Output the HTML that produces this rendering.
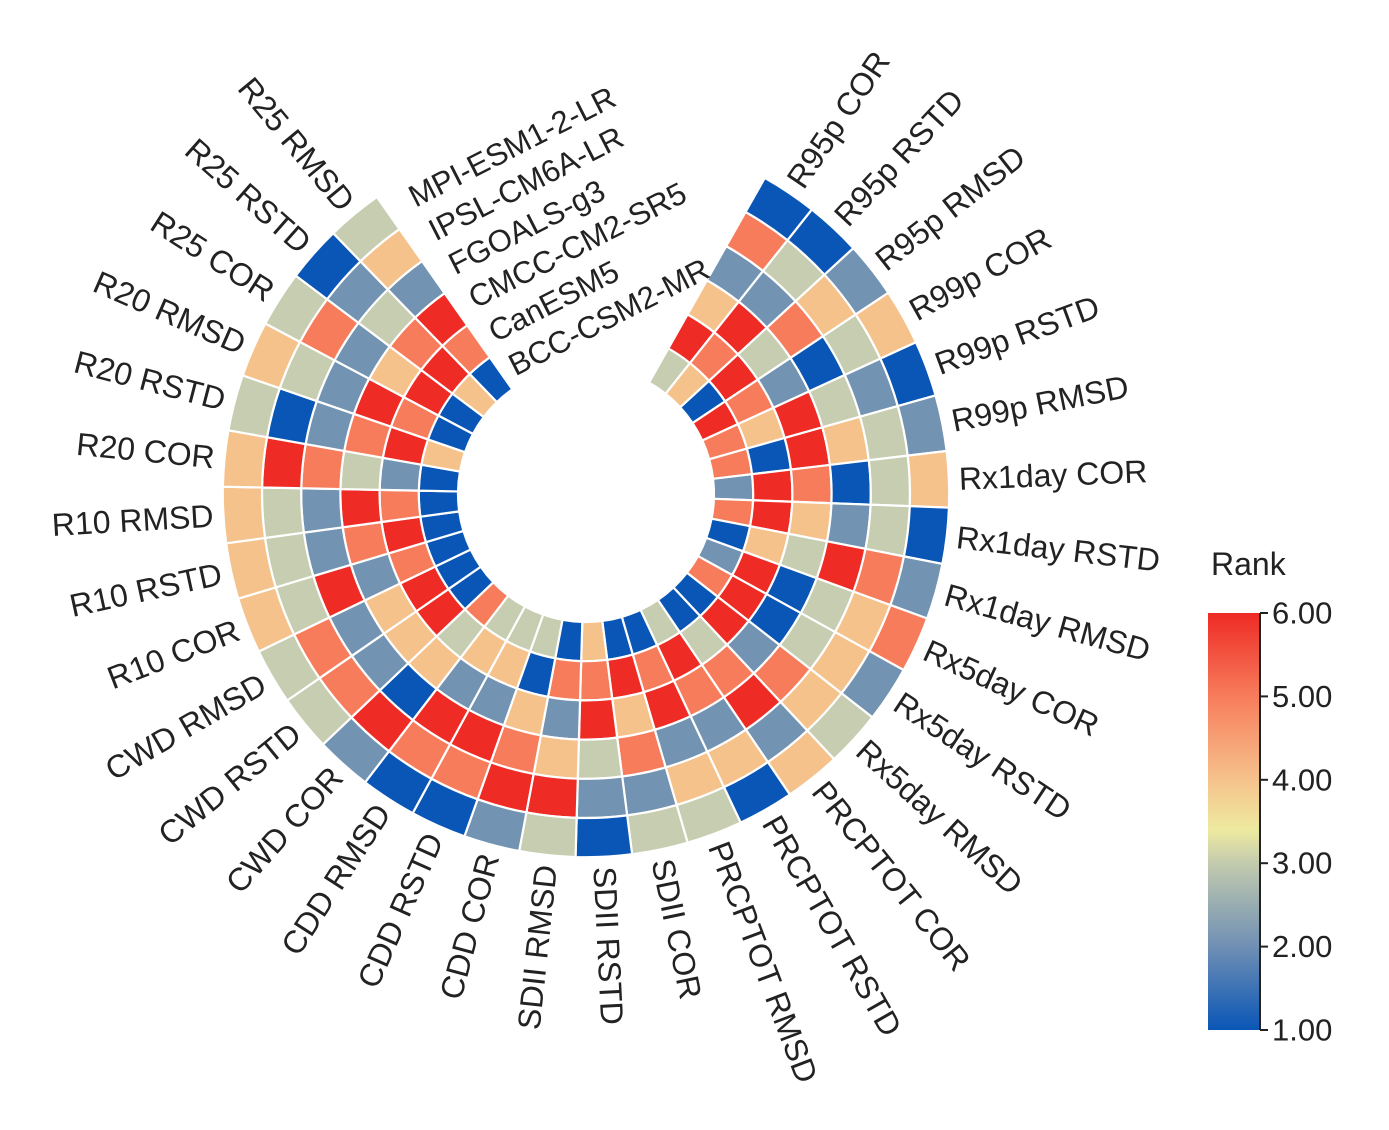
<!DOCTYPE html>
<html><head><meta charset="utf-8">
<style>
html,body{margin:0;padding:0;background:#fff;}
svg{display:block;font-family:"Liberation Sans",Arial,sans-serif;}
</style></head>
<body>
<svg id="chart" width="1389" height="1130" viewBox="0 0 1389 1130" xmlns="http://www.w3.org/2000/svg">
<defs>
<linearGradient id="cbar" x1="0" y1="1" x2="0" y2="0">
<stop offset="0" stop-color="#0a56b6"/>
<stop offset="0.2" stop-color="#6f8fb4"/>
<stop offset="0.4" stop-color="#c3cbae"/>
<stop offset="0.48" stop-color="#eeeaa0"/>
<stop offset="0.6" stop-color="#f6c28c"/>
<stop offset="0.8" stop-color="#f77c5c"/>
<stop offset="1" stop-color="#ee2b25"/>
</linearGradient>
</defs>
<g id="cells"></g>
<g id="labels"></g>
<g id="models"></g>
<g id="legend">
<text x="1211" y="575" font-size="32" fill="#222">Rank</text>
<rect x="1208" y="613" width="52" height="417" fill="url(#cbar)"/>
<line x1="1260" y1="613" x2="1260" y2="1030" stroke="#222" stroke-width="2"/>
</g>
</svg>
<script>
const metrics = ["R95p COR","R95p RSTD","R95p RMSD","R99p COR","R99p RSTD","R99p RMSD","Rx1day COR","Rx1day RSTD","Rx1day RMSD","Rx5day COR","Rx5day RSTD","Rx5day RMSD","PRCPTOT COR","PRCPTOT RSTD","PRCPTOT RMSD","SDII COR","SDII RSTD","SDII RMSD","CDD COR","CDD RSTD","CDD RMSD","CWD COR","CWD RSTD","CWD RMSD","R10 COR","R10 RSTD","R10 RMSD","R20 COR","R20 RSTD","R20 RMSD","R25 COR","R25 RSTD","R25 RMSD"];
const models = ["BCC-CSM2-MR","CanESM5","CMCC-CM2-SR5","FGOALS-g3","IPSL-CM6A-LR","MPI-ESM1-2-LR"];
const rankBCC    = [3,4,1,6,5,5,2,5,1,2,5,1,1,3,1,1,4,1,3,3,3,5,1,1,1,1,1,1,4,1,1,4,1];
const rankCanESM = [6,5,6,5,4,1,6,6,4,6,6,6,3,6,5,6,5,5,1,4,4,3,6,6,5,6,5,2,6,5,6,6,5];
const rankCMCC   = [4,6,3,2,6,6,5,4,3,1,1,2,5,5,6,4,6,2,4,2,2,4,4,4,2,5,6,3,5,6,4,5,6];
const rankFGOALS = [2,2,5,1,3,4,1,2,6,3,3,5,6,2,2,5,3,4,5,6,6,1,2,2,6,2,2,5,2,2,2,3,2];
const rankIPSL   = [5,3,4,3,2,3,3,3,5,4,4,4,2,4,4,2,2,6,6,5,5,6,5,5,3,3,3,6,1,3,5,2,4];
const rankMPI    = [1,1,2,4,1,2,4,1,2,5,2,3,4,1,3,3,1,3,2,1,1,2,3,3,4,4,4,4,3,4,3,1,3];
const legendTicks = [1,2,3,4,5,6];
const tickLabels = ["1.00","2.00","3.00","4.00","5.00","6.00"];

const series = [rankBCC, rankCanESM, rankCMCC, rankFGOALS, rankIPSL, rankMPI];
const NS = "http://www.w3.org/2000/svg";
const cx = 586, cy = 494, r0 = 128, ringW = 39.2;
const startA = 29.5, stepA = 8.95;
const palette = ["#0a56b6","#7393b2","#c6cdb0","#f6c28c","#f77c5c","#ee2b25"];
function color(v){
  const t = Math.max(1, Math.min(6, v)) - 1;
  const i = Math.min(4, Math.floor(t)), f = t - i;
  const a = palette[i], b = palette[i+1];
  const h = s => [1,3,5].map(k => parseInt(s.substr(k,2),16));
  const A = h(a), B = h(b);
  return "rgb(" + A.map((c,k) => Math.round(c + (B[k]-c)*f)).join(",") + ")";
}
function angleScale(i){ return startA + i*stepA; }
function radiusScale(j){ return r0 + j*ringW; }
function pt(a, r){ const rad = a*Math.PI/180; return [cx + r*Math.sin(rad), cy - r*Math.cos(rad)]; }
function cellPath(a1, a2, ri, ro){
  const p1 = pt(a1, ri), p2 = pt(a1, ro), p3 = pt(a2, ro), p4 = pt(a2, ri);
  return "M"+p1+" L"+p2+" A"+ro+","+ro+" 0 0 1 "+p3+" L"+p4+" A"+ri+","+ri+" 0 0 0 "+p1+" Z";
}
const gCells = document.getElementById("cells");
series.forEach((vals, j) => {
  vals.forEach((v, i) => {
    const p = document.createElementNS(NS, "path");
    p.setAttribute("d", cellPath(angleScale(i), angleScale(i+1), radiusScale(j), radiusScale(j+1)));
    p.setAttribute("fill", color(v));
    p.setAttribute("stroke", "#fff");
    p.setAttribute("stroke-width", "2.2");
    
    
    gCells.appendChild(p);
  });
});
const gLab = document.getElementById("labels");
const rLab = radiusScale(6) + 10;
metrics.forEach((m, i) => {
  const a = angleScale(i + 0.5);
  const [x, y] = pt(a, rLab);
  const t = document.createElementNS(NS, "text");
  const right = a < 180;
  const rot = right ? a - 90 : a + 90;
  t.setAttribute("x", x); t.setAttribute("y", y);
  t.setAttribute("transform", "rotate(" + rot + " " + x + " " + y + ")");
  t.setAttribute("text-anchor", right ? "start" : "end");
  t.setAttribute("dominant-baseline", "central");
  t.setAttribute("font-size", "32");
  t.setAttribute("fill", "#222");
  t.textContent = m;
  
  
  gLab.appendChild(t);
});
const gMod = document.getElementById("models");
models.forEach((m, j) => {
  const [x, y] = pt(angleScale(metrics.length) + 4.5, radiusScale(j) + ringW/2);
  const t = document.createElementNS(NS, "text");
  t.setAttribute("x", x); t.setAttribute("y", y);
  t.setAttribute("transform", "rotate(-27 " + x + " " + y + ")");
  t.setAttribute("dominant-baseline", "central");
  t.setAttribute("font-size", "31");
  t.setAttribute("fill", "#222");
  t.textContent = m;
  
  
  gMod.appendChild(t);
});
const gLeg = document.getElementById("legend");
const y6 = 613, y1 = 1030;
function legendY(v){ return y1 - (v-1)/5*(y1-y6); }
legendTicks.forEach((v, k) => {
  const y = legendY(v);
  const l = document.createElementNS(NS, "line");
  l.setAttribute("x1", 1260); l.setAttribute("x2", 1268);
  l.setAttribute("y1", y); l.setAttribute("y2", y);
  l.setAttribute("stroke", "#222"); l.setAttribute("stroke-width", "2");
  
  
  gLeg.appendChild(l);
  const t = document.createElementNS(NS, "text");
  t.setAttribute("x", 1272); t.setAttribute("y", y);
  t.setAttribute("dominant-baseline", "central");
  t.setAttribute("font-size", "31");
  t.setAttribute("fill", "#222");
  t.textContent = tickLabels[k];
  
  
  gLeg.appendChild(t);
});
</script>
</body></html>
